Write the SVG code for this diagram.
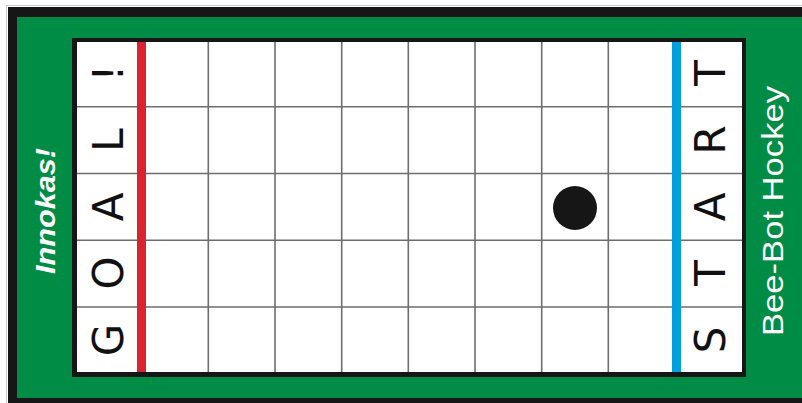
<svg xmlns="http://www.w3.org/2000/svg" width="802" height="403" viewBox="0 0 802 403">
<style>
.grid{stroke:#6e6e6e;stroke-width:1.6;fill:none}
.let{font-family:"DejaVu Sans","Liberation Sans",sans-serif;font-size:42px;fill:#111;text-anchor:middle;dominant-baseline:central}
.side{font-family:"Liberation Sans","DejaVu Sans",sans-serif;fill:#fff;text-anchor:middle;dominant-baseline:central}
.ital{font-style:italic;font-weight:bold}
</style>
<rect x="0" y="0" width="802" height="403" fill="#fff"/>
<g id="frame">
<rect x="6.5" y="5.5" width="810" height="410" fill="none" stroke="#c8c8c8" stroke-width="1"/>
<rect x="8" y="7" width="810" height="400" fill="#161616"/>
<rect x="17" y="17" width="800" height="381" fill="#008c44"/>
</g>
<g id="board">
<rect x="72" y="38" width="674" height="339" fill="#161616"/>
<rect x="77" y="42" width="665" height="330" fill="#fff"/>
</g>
<g id="gridlines">
<path class="grid" d="M208.3 42V372M275 42V372M341.7 42V372M408.3 42V372M475 42V372M541.7 42V372M608.3 42V372M77 106.8H742M77 173.5H742M77 240.3H742M77 307H742"/>
</g>
<g id="goal-line"><rect x="137" y="42" width="9" height="330" fill="#d9232e"/></g>
<g id="start-line"><rect x="672" y="42" width="9" height="330" fill="#00a0dc"/></g>
<g id="goal-text">
<text class="let" transform="translate(108,73) rotate(-90)">!</text>
<text class="let" transform="translate(108,140) rotate(-90)">L</text>
<text class="let" transform="translate(108,207) rotate(-90)">A</text>
<text class="let" transform="translate(108,273) rotate(-90)">O</text>
<text class="let" transform="translate(108,340) rotate(-90)">G</text>
</g>
<g id="start-text">
<text class="let" transform="translate(710,73) rotate(-90)">T</text>
<text class="let" transform="translate(710,140) rotate(-90)">R</text>
<text class="let" transform="translate(710,207) rotate(-90)">A</text>
<text class="let" transform="translate(710,273) rotate(-90)">T</text>
<text class="let" transform="translate(710,340) rotate(-90)">S</text>
</g>
<g id="ball"><circle cx="575" cy="208" r="22" fill="#161616"/></g>
<g id="innokas"><text class="side ital" font-size="28" textLength="126" lengthAdjust="spacingAndGlyphs" transform="translate(45,211) rotate(-90)">Innokas!</text></g>
<g id="beebot"><text class="side" font-size="30" textLength="250" lengthAdjust="spacingAndGlyphs" transform="translate(772,211) rotate(-90)">Bee-Bot Hockey</text></g>
</svg>
